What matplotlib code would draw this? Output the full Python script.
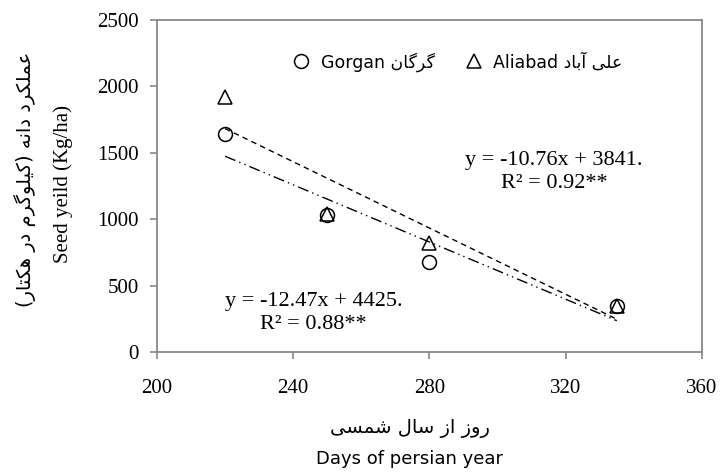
import numpy as np
import matplotlib
matplotlib.use("Agg")
import matplotlib.pyplot as plt

# 数据
days = [220, 250, 280, 335]
gorgan = [1640, 1030, 680, 350]
aliabad = [1920, 1040, 820, 350]

fit_x = [220, 335]
fit_dashed = (-12.47, 4425)    # 虚线
fit_dashdot = (-10.76, 3841)   # 点划线

eq_upper = "y = -10.76x + 3841.\nR² = 0.92**"
eq_lower = "y = -12.47x + 4425.\nR² = 0.88**"

xticks = [200, 240, 280, 320, 360]
yticks = [0, 500, 1000, 1500, 2000, 2500]

ylabel_fa = "عملکرد دانه (کیلوگرم در هکتار)"
ylabel_en = "Seed yeild (Kg/ha)"
xlabel_fa = "روز از سال شمسی"
xlabel_en = "Days of persian year"
name_gorgan = ("Gorgan", "گرگان")
name_aliabad = ("Aliabad", "علی آباد")

# ---------------------------
# 简单的波斯文字形处理 (matplotlib 不做 RTL)
# ---------------------------
FORMS = {
    'ا': ('\uFE8D', '\uFE8E', None, None),
    'آ': ('\uFE81', '\uFE82', None, None),
    'ب': ('\uFE8F', '\uFE90', '\uFE91', '\uFE92'),
    'ت': ('\uFE95', '\uFE96', '\uFE97', '\uFE98'),
    'د': ('\uFEA9', '\uFEAA', None, None),
    'ر': ('\uFEAD', '\uFEAE', None, None),
    'ز': ('\uFEAF', '\uFEB0', None, None),
    'س': ('\uFEB1', '\uFEB2', '\uFEB3', '\uFEB4'),
    'ش': ('\uFEB5', '\uFEB6', '\uFEB7', '\uFEB8'),
    'ع': ('\uFEC9', '\uFECA', '\uFECB', '\uFECC'),
    'ل': ('\uFEDD', '\uFEDE', '\uFEDF', '\uFEE0'),
    'م': ('\uFEE1', '\uFEE2', '\uFEE3', '\uFEE4'),
    'ن': ('\uFEE5', '\uFEE6', '\uFEE7', '\uFEE8'),
    'ه': ('\uFEE9', '\uFEEA', '\uFEEB', '\uFEEC'),
    'و': ('\uFEED', '\uFEEE', None, None),
    'ی': ('\uFBFC', '\uFBFD', '\uFBFE', '\uFBFF'),
    'ک': ('\uFB8E', '\uFB8F', '\uFB90', '\uFB91'),
    'گ': ('\uFB92', '\uFB93', '\uFB94', '\uFB95'),
}
MIRROR = {'(': ')', ')': '('}


def shape_fa(text):
    out = []
    for i, ch in enumerate(text):
        if ch not in FORMS:
            out.append(MIRROR.get(ch, ch))
            continue
        prev = text[i - 1] if i > 0 else ''
        nxt = text[i + 1] if i + 1 < len(text) else ''
        join_prev = prev in FORMS and FORMS[prev][2] is not None
        join_next = FORMS[ch][2] is not None and nxt in FORMS
        iso, fin, ini, med = FORMS[ch]
        if join_prev and join_next:
            out.append(med)
        elif join_prev:
            out.append(fin)
        elif join_next:
            out.append(ini)
        else:
            out.append(iso)
    return ''.join(reversed(out))


serif = ['Liberation Serif', 'DejaVu Serif']
sans = ['DejaVu Sans']
gray = '#888888'

fig = plt.figure(figsize=(7.2, 4.72), dpi=100)
ax = fig.add_axes([0.218, 0.254, 0.757, 0.704])

xx = np.array(fit_x, dtype=float)
ax.plot(xx, fit_dashed[0] * xx + fit_dashed[1], color='black', lw=1.0,
        linestyle=(0, (4, 3)))
ax.plot(xx, fit_dashdot[0] * xx + fit_dashdot[1], color='black', lw=1.0,
        linestyle=(0, (8, 3, 1, 3, 1, 3)))

ax.plot(days, gorgan, linestyle='none', marker='o', markersize=10,
        markerfacecolor='none', markeredgecolor='black', markeredgewidth=1.1,
        label=f"{name_gorgan[0]} {shape_fa(name_gorgan[1])}")
ax.plot(days, aliabad, linestyle='none', marker='^', markersize=10,
        markerfacecolor='none', markeredgecolor='black', markeredgewidth=1.1,
        label=f"{name_aliabad[0]} {shape_fa(name_aliabad[1])}")

ax.set_xlim(200, 360)
ax.set_ylim(0, 2500)
ax.set_xticks(xticks)
ax.set_yticks(yticks)
for sp in ax.spines.values():
    sp.set_color(gray)
    sp.set_linewidth(1.3)
ax.tick_params(axis='both', direction='out', length=5, width=1.2, color=gray,
               labelsize=15)
ax.tick_params(axis='x', pad=14)
ax.tick_params(axis='y', pad=8)
for lab in ax.get_xticklabels() + ax.get_yticklabels():
    lab.set_family(serif)

ax.text(316.5, 1355, eq_upper, ha='center', va='center', fontsize=16,
        family=serif, linespacing=1.25)
ax.text(246, 294, eq_lower, ha='center', va='center', fontsize=16,
        family=serif, linespacing=1.25)

leg = ax.legend(loc='center', bbox_to_anchor=(0.552, 0.873), ncol=2,
                frameon=False, handletextpad=0.6, columnspacing=1.8,
                handlelength=1.0, borderpad=0.2,
                prop={'family': sans, 'size': 12.5})

# 轴标签
fig.text(0.087, 0.61, ylabel_en, rotation=90, ha='center', va='center',
         fontsize=15, family=serif)
fig.text(0.035, 0.62, shape_fa(ylabel_fa), rotation=90, ha='center',
         va='center', fontsize=14, family=sans)
fig.text(0.569, 0.093, shape_fa(xlabel_fa), ha='center', va='center',
         fontsize=14, family=sans)
fig.text(0.569, 0.027, xlabel_en, ha='center', va='center', fontsize=13,
         family=sans)

fig.savefig('out.png', dpi=100)
